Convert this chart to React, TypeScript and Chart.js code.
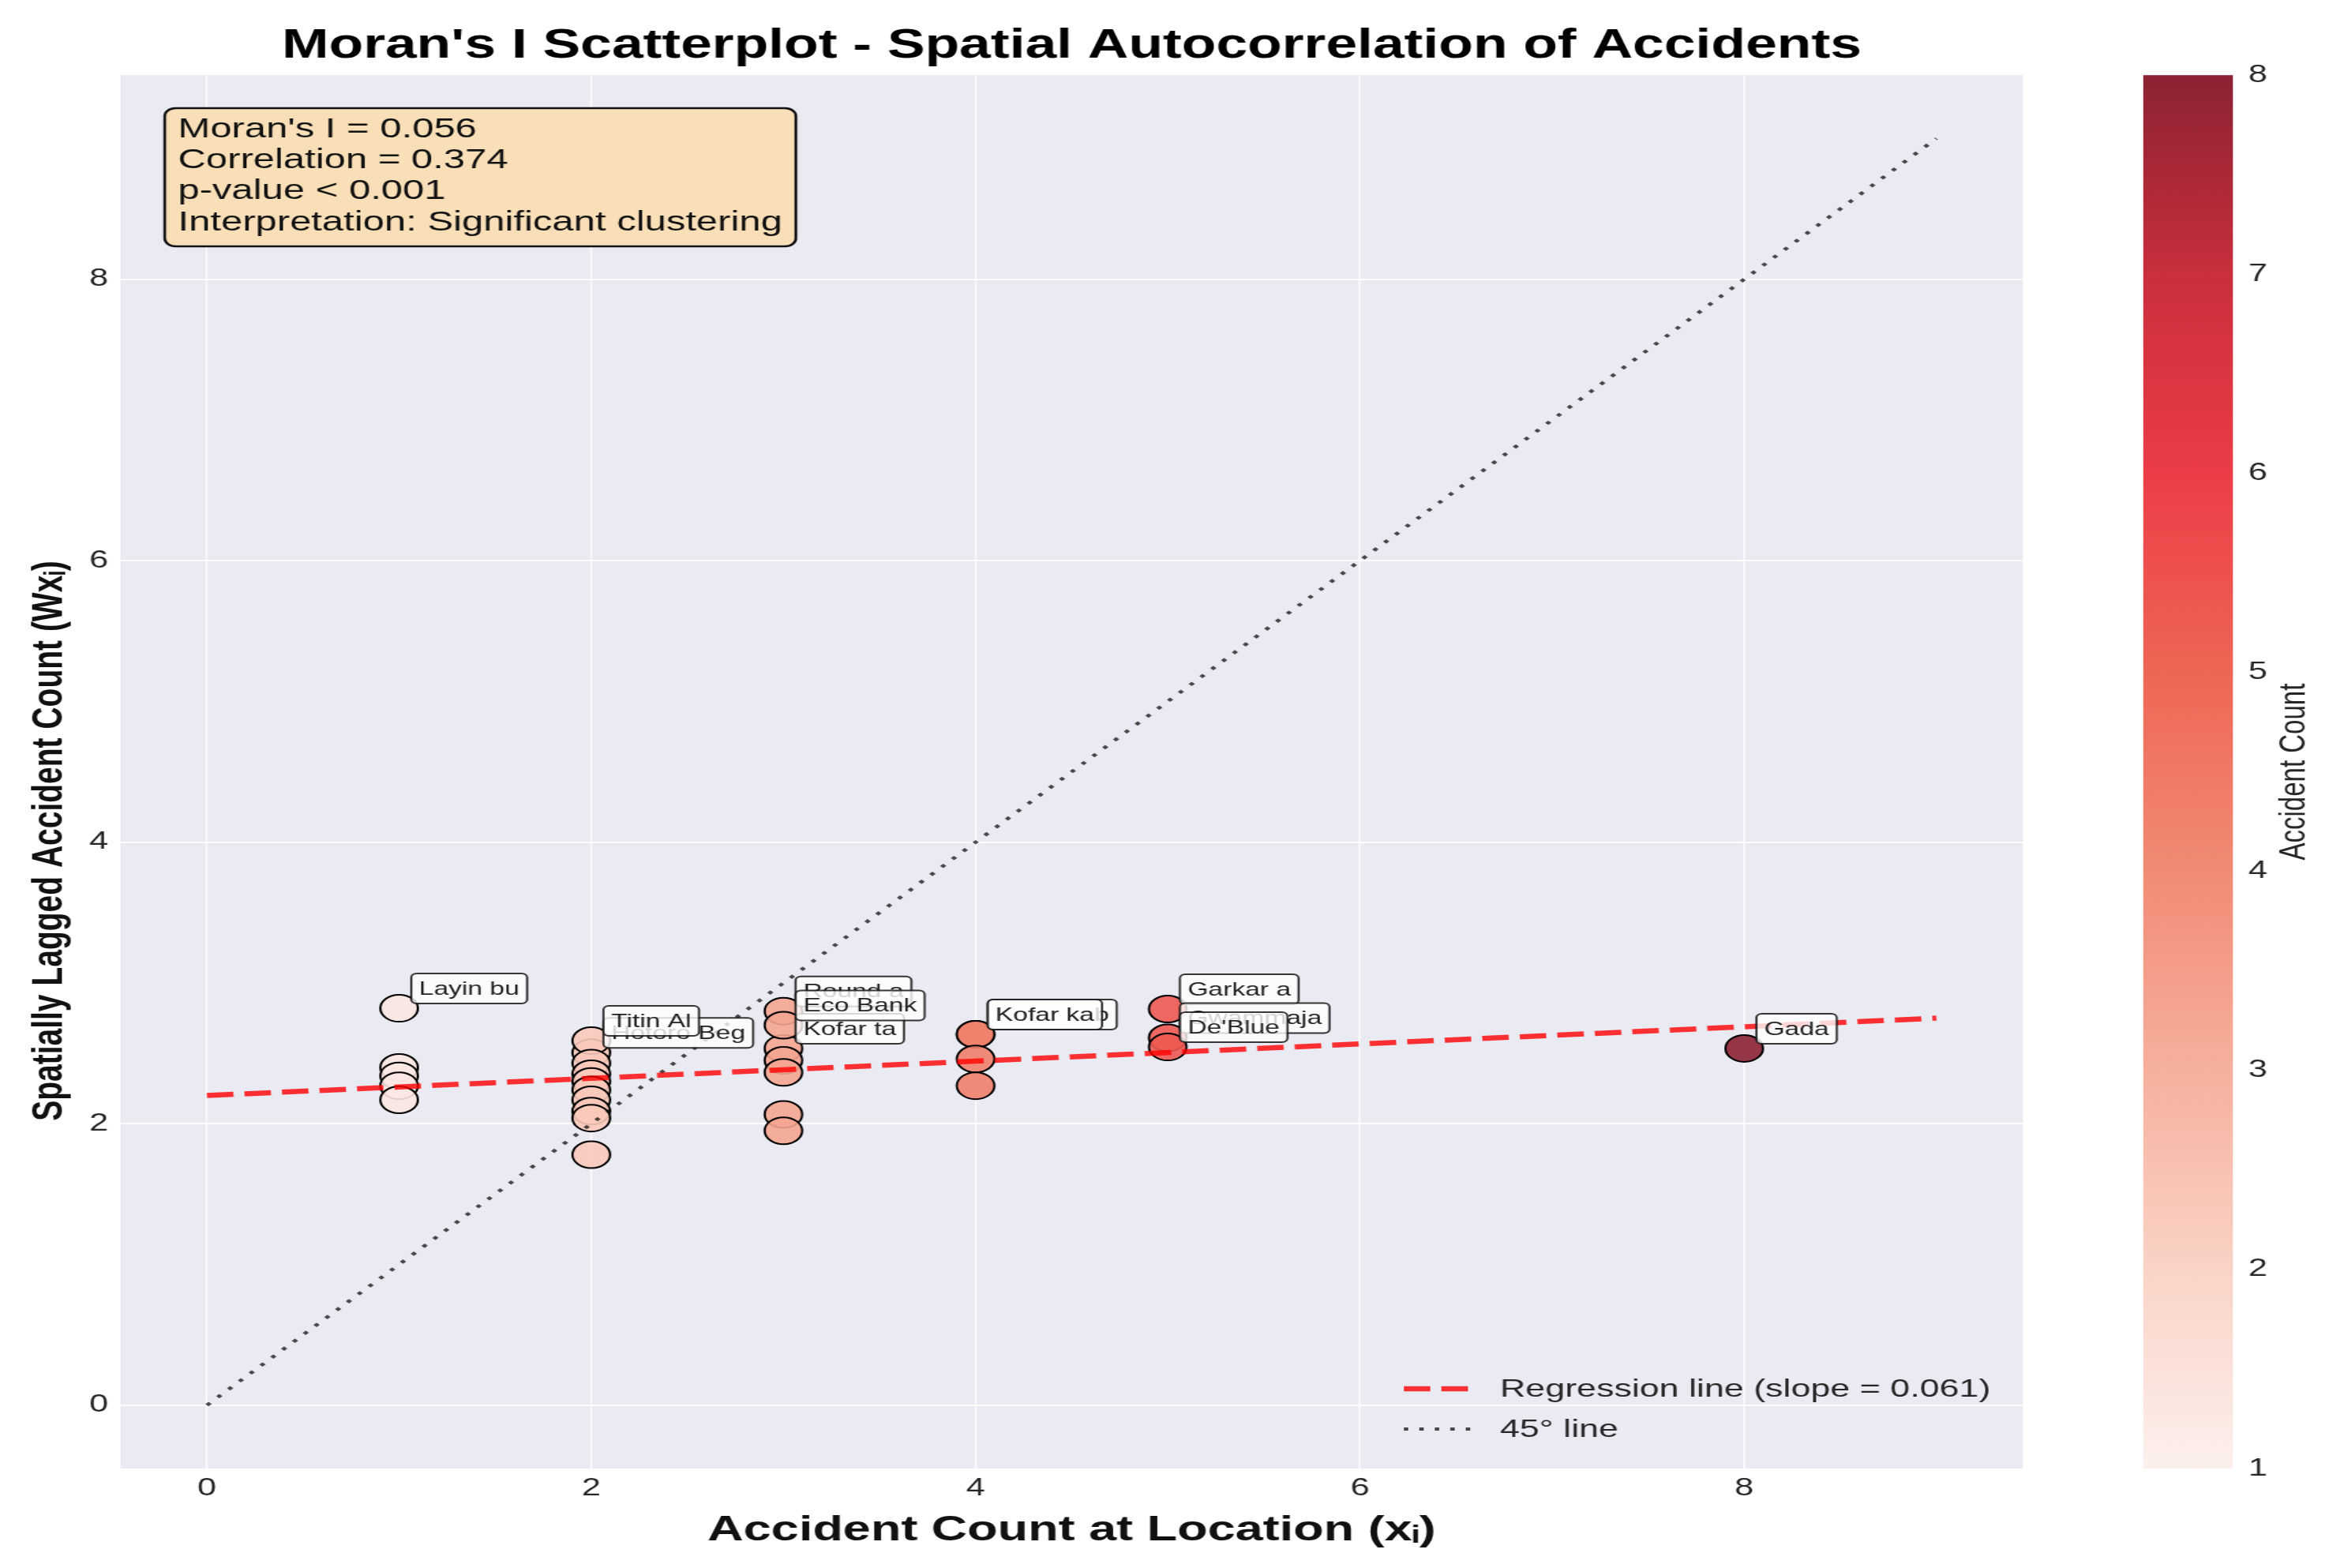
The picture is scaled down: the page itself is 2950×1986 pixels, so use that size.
import React, { useEffect, useRef } from 'react';
import { Chart, registerables } from 'chart.js';

Chart.register(...registerables);

// ---------------- data ----------------
const POINT_X = [1, 1, 1, 1, 1, 2, 2, 2, 2, 2, 2, 2, 2, 2, 2, 3, 3, 3, 3, 3, 3, 3, 4, 4, 4, 4, 5, 5, 5, 8];
const POINT_Y = [
  2.82, 2.40, 2.34, 2.27, 2.17,
  2.505, 2.59, 2.43, 2.355, 2.30, 2.24, 2.17, 2.09, 2.04, 1.78,
  2.80, 2.535, 2.70, 2.45, 2.365, 2.066, 1.95,
  2.635, 2.635, 2.46, 2.27,
  2.815, 2.61, 2.545,
  2.535,
];
const POINT_LABELS = [
  'Layin bu', '', '', '', '',
  'Hotoro Beg', 'Titin Al', '', '', '', '', '', '', '', '',
  'Round a', 'Kofar ta', 'Eco Bank', '', '', '', '',
  'Kofar kab', 'Kofar ka', '', '',
  'Garkar a', 'Gwammaja', "De'Blue",
  'Gada',
];
const LINE_X = [0, 9];
const REG_Y = [2.2, 2.75];
const DIAG_Y = [0, 9];
const X_TICKS = [0, 2, 4, 6, 8];
const Y_TICKS = [0, 2, 4, 6, 8];
const CBAR_TICKS = [1, 2, 3, 4, 5, 6, 7, 8];
const STATS_LINES = [
  "Moran's I = 0.056",
  'Correlation = 0.374',
  'p-value < 0.001',
  'Interpretation: Significant clustering',
];
const LEGEND_LABELS = ['Regression line (slope = 0.061)', '45° line'];
const TITLE = "Moran's I Scatterplot - Spatial Autocorrelation of Accidents";
const X_TITLE = 'Accident Count at Location (xᵢ)';
const Y_TITLE = 'Spatially Lagged Accident Count (Wxᵢ)';
const CBAR_TITLE = 'Accident Count';

// ---------------- styles ----------------
const CMAP_STOPS = ['#fcf0ed', '#fad3c7', '#f6b09d', '#f18b75', '#ee6656', '#ec3d47', '#c92f3c', '#8c2234'];
const FONT = '"Liberation Sans", Arial, Helvetica, sans-serif';
const W = 2107; // internal canvas width (displayed stretched to 2950)
const H = 1986;
const DISPLAY_W = 2950;
const PLOT_LEFT = 109;
const PLOT_RIGHT = 1830;
const PLOT_BOTTOM = 1860;
const POINT_SHADE = 0.3; // markers look a bit darker than the colour bar

function hexToRgb(h: string) {
  const n = parseInt(h.slice(1), 16);
  return [(n >> 16) & 255, (n >> 8) & 255, n & 255];
}
function cmap(v: number, alpha = 1) {
  const t = Math.min(7, Math.max(0, v - 1));
  const i = Math.min(6, Math.floor(t));
  const f = t - i;
  const a = hexToRgb(CMAP_STOPS[i]);
  const b = hexToRgb(CMAP_STOPS[i + 1]);
  const c = a.map((x, k) => Math.round(x + (b[k] - x) * f));
  return `rgba(${c[0]},${c[1]},${c[2]},${alpha})`;
}

const decor = {
  id: 'decor',
  beforeDraw(chart: any) {
    const { ctx, chartArea: a } = chart;
    ctx.save();
    ctx.fillStyle = '#ffffff';
    ctx.fillRect(0, 0, chart.width, chart.height);
    ctx.fillStyle = '#eaeaf2';
    ctx.fillRect(a.left, a.top, a.right - a.left, a.bottom - a.top);
    ctx.restore();
  },
  afterDatasetsDraw(chart: any) {
    const { ctx } = chart;
    const xs = chart.scales.x;
    const ys = chart.scales.y;
    ctx.save();
    // point labels
    ctx.font = `24px ${FONT}`;
    ctx.textBaseline = 'middle';
    ctx.textAlign = 'left';
    POINT_LABELS.forEach((lab, i) => {
      if (!lab) return;
      const px = xs.getPixelForValue(POINT_X[i]);
      const py = ys.getPixelForValue(POINT_Y[i]);
      const tw = ctx.measureText(lab).width;
      const left = px + 11;
      const top = py - 44;
      const w = tw + 14;
      const h = 38;
      ctx.beginPath();
      ctx.roundRect(left, top, w, h, 5);
      ctx.fillStyle = 'rgba(255,255,255,0.8)';
      ctx.fill();
      ctx.lineWidth = 2;
      ctx.strokeStyle = 'rgba(20,20,20,0.85)';
      ctx.stroke();
      ctx.fillStyle = '#222';
      ctx.fillText(lab, left + 7, top + h / 2 + 1);
    });

    // stats box
    ctx.beginPath();
    ctx.roundRect(149, 137, 571, 175, 10);
    ctx.fillStyle = '#f9dfb7';
    ctx.fill();
    ctx.lineWidth = 2.5;
    ctx.strokeStyle = '#111';
    ctx.stroke();
    ctx.fillStyle = '#111';
    ctx.font = `35px ${FONT}`;
    STATS_LINES.forEach((t, i) => ctx.fillText(t, 161, 164 + i * 39.3));

    // legend
    const ly = [1759, 1810];
    ctx.font = `32px ${FONT}`;
    ctx.fillStyle = '#262626';
    ctx.lineCap = 'butt';
    ctx.beginPath();
    ctx.setLineDash([24, 10]);
    ctx.lineWidth = 6.5;
    ctx.strokeStyle = 'rgba(255,0,0,0.8)';
    ctx.moveTo(1270, ly[0]);
    ctx.lineTo(1328, ly[0]);
    ctx.stroke();
    ctx.beginPath();
    ctx.setLineDash([4, 10]);
    ctx.lineWidth = 4;
    ctx.strokeStyle = 'rgba(0,0,0,0.7)';
    ctx.moveTo(1270, ly[1]);
    ctx.lineTo(1330, ly[1]);
    ctx.stroke();
    ctx.setLineDash([]);
    LEGEND_LABELS.forEach((t, i) => ctx.fillText(t, 1357, ly[i] + 1));
    ctx.restore();
  },
  afterDraw(chart: any) {
    const { ctx } = chart;
    const cs = chart.scales.cbar;
    const top = cs.getPixelForValue(CBAR_TICKS[CBAR_TICKS.length - 1]);
    const bottom = cs.getPixelForValue(CBAR_TICKS[0]);
    ctx.save();
    const g = ctx.createLinearGradient(0, bottom, 0, top);
    CMAP_STOPS.forEach((c, i) => g.addColorStop(i / (CMAP_STOPS.length - 1), c));
    ctx.fillStyle = g;
    ctx.fillRect(1939, top, 81, bottom - top);
    ctx.save();
    ctx.translate(2076, (top + bottom) / 2);
    ctx.rotate(-Math.PI / 2);
    ctx.font = `33px ${FONT}`;
    ctx.fillStyle = '#262626';
    ctx.textAlign = 'center';
    ctx.textBaseline = 'middle';
    ctx.fillText(CBAR_TITLE, 0, 0);
    ctx.restore();
    // y-axis title
    ctx.save();
    ctx.translate(45, 1065);
    ctx.rotate(-Math.PI / 2);
    ctx.font = `bold 39px ${FONT}`;
    ctx.fillStyle = '#111';
    ctx.textAlign = 'center';
    ctx.textBaseline = 'middle';
    ctx.fillText(Y_TITLE, 0, 0);
    ctx.restore();
    ctx.restore();
  },
};

export default function App() {
  const ref = useRef<HTMLCanvasElement | null>(null);
  useEffect(() => {
    document.body.style.margin = '0';
    document.body.style.overflow = 'hidden';
    const canvas = ref.current;
    if (!canvas) return;
    const tickFont = { family: FONT, size: 31 };
    const chart = new Chart(canvas, {
      type: 'scatter',
      data: {
        datasets: [
          {
            type: 'line',
            label: LEGEND_LABELS[0],
            data: LINE_X.map((x, i) => ({ x, y: REG_Y[i] })),
            borderColor: 'rgba(255,0,0,0.8)',
            borderWidth: 6.5,
            borderDash: [24, 10],
            pointRadius: 0,
            fill: false,
            order: 0,
          } as any,
          {
            type: 'line',
            label: LEGEND_LABELS[1],
            data: LINE_X.map((x, i) => ({ x, y: DIAG_Y[i] })),
            borderColor: 'rgba(0,0,0,0.7)',
            borderWidth: 4,
            borderDash: [4, 10],
            pointRadius: 0,
            fill: false,
            order: 1,
          } as any,
          {
            type: 'scatter',
            label: 'Locations',
            data: POINT_X.map((x, i) => ({ x, y: POINT_Y[i] })),
            pointRadius: 17,
            pointBackgroundColor: POINT_X.map((x) => cmap(x + POINT_SHADE, 0.9)),
            pointBorderColor: '#000',
            pointBorderWidth: 2,
            order: 2,
          } as any,
        ],
      },
      options: {
        responsive: false,
        animation: false,
        devicePixelRatio: 1,
        layout: { padding: 0, autoPadding: false },
        plugins: {
          legend: { display: false },
          tooltip: { enabled: false },
          title: {
            display: true,
            text: TITLE,
            fullSize: false,
            color: '#000',
            font: { family: FONT, size: 51, weight: 'bold' },
            padding: { top: 28, bottom: 6 },
          },
        },
        scales: {
          x: {
            type: 'linear',
            min: -0.45,
            max: 9.45,
            afterBuildTicks: (s: any) => {
              s.ticks = X_TICKS.map((v) => ({ value: v }));
            },
            afterFit: (s: any) => {
              s.height = H - PLOT_BOTTOM;
            },
            grid: { color: 'rgba(255,255,255,0.85)', lineWidth: 1.6, drawTicks: false },
            border: { display: false },
            ticks: { padding: 7, font: tickFont, color: '#262626' },
            title: {
              display: true,
              text: X_TITLE,
              color: '#111',
              font: { family: FONT, size: 45, weight: 'bold' },
              padding: { top: 0, bottom: 20 },
            },
          },
          y: {
            type: 'linear',
            position: 'left',
            min: -0.45,
            max: 9.45,
            afterBuildTicks: (s: any) => {
              s.ticks = Y_TICKS.map((v) => ({ value: v }));
            },
            afterFit: (s: any) => {
              s.width = PLOT_LEFT;
            },
            grid: { color: 'rgba(255,255,255,0.85)', lineWidth: 2, drawTicks: false },
            border: { display: false },
            ticks: { padding: 11, font: tickFont, color: '#262626' },
            title: { display: false },
          },
          cbar: {
            type: 'linear',
            position: 'right',
            min: 1,
            max: 8,
            afterBuildTicks: (s: any) => {
              s.ticks = CBAR_TICKS.map((v) => ({ value: v }));
            },
            afterFit: (s: any) => {
              s.width = W - PLOT_RIGHT;
            },
            grid: {
              display: true,
              drawOnChartArea: false,
              drawTicks: true,
              tickLength: 200,
              color: 'rgba(0,0,0,0)',
            },
            border: { display: false },
            ticks: { padding: 4, font: tickFont, color: '#262626' },
          },
        } as any,
      },
      plugins: [decor],
    } as any);
    return () => chart.destroy();
  }, []);
  return (
    <canvas
      ref={ref}
      width={W}
      height={H}
      style={{ display: 'block', width: `${DISPLAY_W}px`, height: `${H}px` }}
    />
  );
}
